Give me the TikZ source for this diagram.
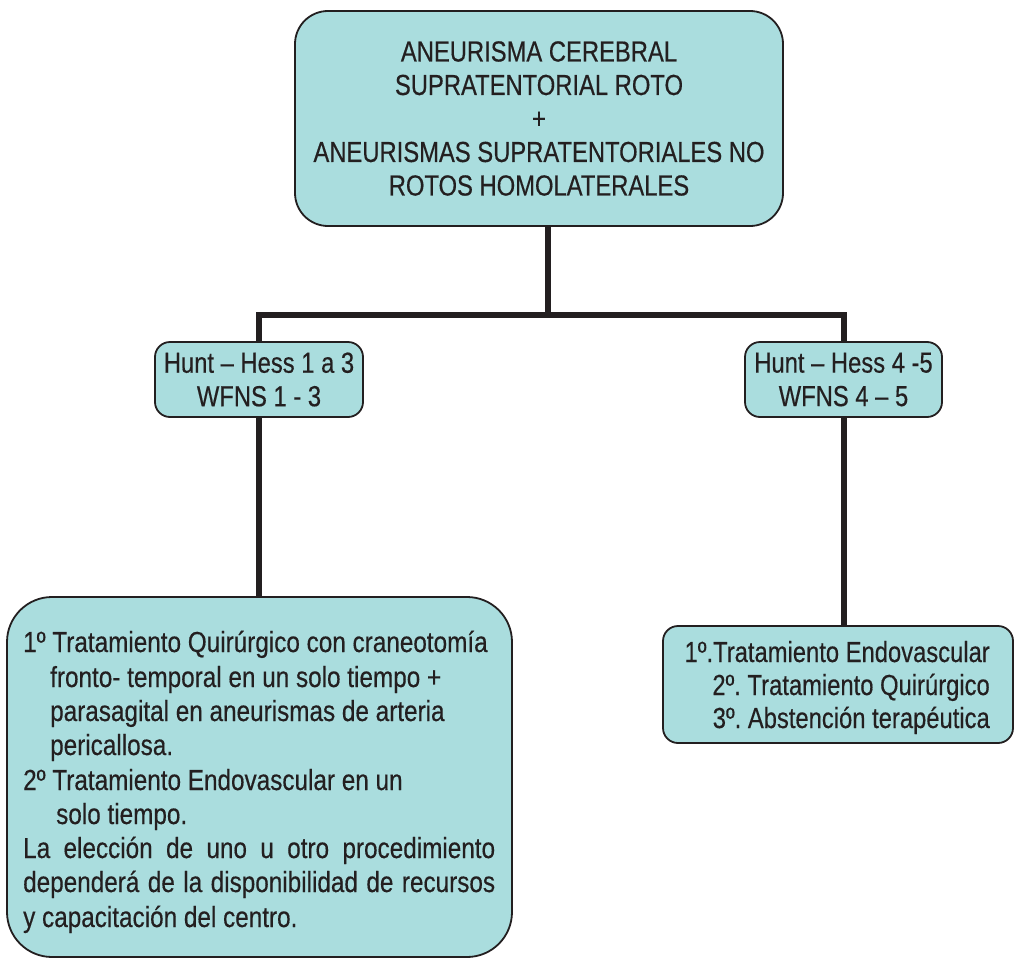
\documentclass[tikz,border=0pt]{standalone}
\usepackage{fontspec}
\newfontfamily\diagfont[FakeStretch=0.82,FakeBold=0.4]{Liberation Sans}
\newfontfamily\widefont[FakeStretch=0.838,FakeBold=0.4]{Liberation Sans}
\definecolor{boxfill}{RGB}{170,221,222}
\definecolor{ink}{RGB}{35,31,32}
\begin{document}
\frenchspacing
\begin{tikzpicture}[x=1pt,y=-1pt,
  every node/.style={font=\diagfont\fontsize{29}{33.5}\selectfont, text=ink},
  panel/.style={draw=ink, line width=1.8pt, fill=boxfill, inner sep=0pt},
  conn/.style={draw=ink, line width=6pt, line join=miter},
  ln/.style={anchor=base west, inner sep=0pt, font=\widefont\fontsize{29}{33.5}\selectfont},
  rn/.style={anchor=base east, inner sep=0pt}
]
\useasboundingbox (0,0) rectangle (1014,958);

% main question
\node[panel, rounded corners=33pt, minimum width=488pt, minimum height=215pt, align=center]
  (top) at (539,118.5)
  {ANEURISMA CEREBRAL\\SUPRATENTORIAL ROTO\\+\\ANEURISMAS SUPRATENTORIALES NO\\ROTOS HOMOLATERALES};

% clinical grade boxes
\node[panel, rounded corners=15pt, minimum width=208pt, minimum height=75pt, align=center]
  (hh1) at (259,379.5) {Hunt – Hess 1 a 3\\WFNS 1 - 3};
\node[panel, rounded corners=15pt, minimum width=197pt, minimum height=75pt, align=center]
  (hh2) at (843.5,379.5) {Hunt – Hess 4 -5\\WFNS 4 – 5};

% treatment for low grades
\node[panel, rounded corners=45pt, minimum width=505pt, minimum height=360pt] (q1) at (259.5,777) {};
\node[ln] (l1) at (23,652) {1º Tratamiento Quirúrgico con craneotomía};
\node[ln] (l2) at (50,687) {fronto- temporal en un solo tiempo +};
\node[ln] (l3) at (50,721) {parasagital en aneurismas de arteria};
\node[ln] (l4) at (50,755) {pericallosa.};
\node[ln] (l5) at (23,790) {2º Tratamiento Endovascular en un};
\node[ln] (l6) at (56,824) {solo tiempo.};
\node[ln] (l7) at (23,858) {\makebox[472pt][s]{La elección de uno u otro procedimiento}};
\node[ln] (l8) at (23,892) {\makebox[472pt][s]{dependerá de la disponibilidad de recursos}};
\node[ln] (l9) at (23,927) {y capacitación del centro.};

% treatment for high grades
\node[panel, rounded corners=15pt, minimum width=350pt, minimum height=117pt] (q2) at (838,684.5) {};
\node[rn] (r1) at (990,662) {1º.Tratamiento Endovascular};
\node[rn] (r2) at (990,695) {2º. Tratamiento Quirúrgico};
\node[rn] (r3) at (990,728) {3º. Abstención terapéutica};

% connectors
\coordinate (bar) at (548,315);
\draw[conn] (bar) -- (bar |- top.south);
\draw[conn] (hh1.north) |- (bar) -| (hh2.north);
\draw[conn] (hh1.south) -- (hh1.south |- q1.north);
\draw[conn] (hh2.south) -- (hh2.south |- q2.north);
\end{tikzpicture}
\end{document}
